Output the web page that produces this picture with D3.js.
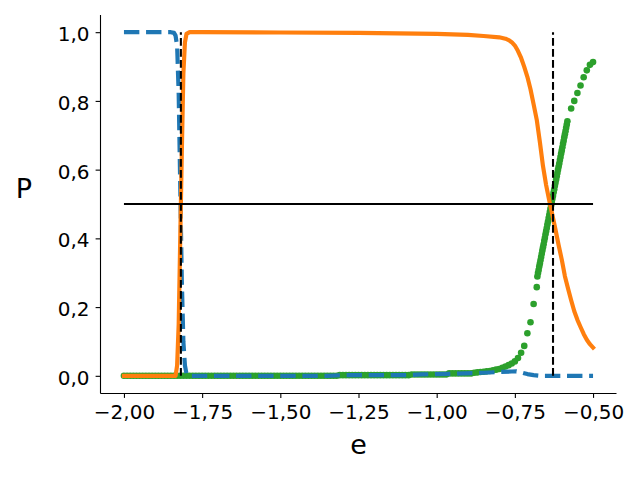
<!DOCTYPE html>
<html>
<head>
<meta charset="utf-8">
<script src="https://cdn.jsdelivr.net/npm/d3@7"></script>
<style>
  html, body { margin: 0; padding: 0; background: #fff; }
  svg { display: block; font-family: "DejaVu Sans", sans-serif; }
</style>
</head>
<body>
<svg id="chart" width="640" height="480"></svg>
<script>
// ---- data ----
const xTicks = [-2.0, -1.75, -1.5, -1.25, -1.0, -0.75, -0.5];
const xTickLabels = ["−2,00", "−1,75", "−1,50", "−1,25", "−1,00", "−0,75", "−0,50"];
const yTicks = [0, 0.2, 0.4, 0.6, 0.8, 1.0];
const yTickLabels = ["0,0", "0,2", "0,4", "0,6", "0,8", "1,0"];

// blue dashed series
const blueX = [-2.00, -1.85, -1.84, -1.835, -1.83, -1.825, -1.82, -1.815, -1.81, -1.805, -1.80, -1.79,
  -1.35, -1.30, -1.10, -1.05, -0.95, -0.85, -0.80, -0.76, -0.745, -0.73, -0.71, -0.69, -0.67, -0.50];
const blueY = [1.0, 1.0, 0.998, 0.99, 0.96, 0.82, 0.55, 0.28, 0.10, 0.03, 0.006, 0.0,
  0.0, 0.002, 0.002, 0.004, 0.006, 0.009, 0.011, 0.0125, 0.013, 0.010, 0.005, 0.002, 0.0, 0.0];

// orange solid series
const orangeX = [-2.00, -1.90, -1.835, -1.83, -1.825, -1.82, -1.815, -1.81, -1.805, -1.80, -1.79,
  -1.75, -1.50, -1.25, -1.00, -0.90, -0.85, -0.80, -0.78, -0.77, -0.76, -0.75, -0.74, -0.73, -0.72,
  -0.71, -0.70, -0.69, -0.68, -0.67, -0.66, -0.65, -0.64, -0.63, -0.62, -0.61, -0.60, -0.59, -0.58,
  -0.57, -0.56, -0.55, -0.54, -0.53, -0.52, -0.51, -0.50];
const orangeY = [0.0, 0.0, 0.0, 0.03, 0.15, 0.40, 0.65, 0.88, 0.97, 0.995, 1.0,
  1.0, 0.999, 0.998, 0.995, 0.992, 0.989, 0.985, 0.981, 0.977, 0.971, 0.961, 0.945, 0.925, 0.899,
  0.870, 0.834, 0.790, 0.745, 0.680, 0.610, 0.555, 0.510, 0.468, 0.425, 0.380, 0.338, 0.290, 0.254,
  0.220, 0.188, 0.163, 0.142, 0.122, 0.105, 0.092, 0.082];

// green dotted series (x, y)
const greenX = [
  -2.00, -1.99, -1.98, -1.97, -1.96, -1.95, -1.94, -1.93, -1.92, -1.91,
  -1.90, -1.89, -1.88, -1.87, -1.86, -1.85, -1.84, -1.83, -1.82, -1.81,
  -1.80, -1.79, -1.78, -1.77, -1.76, -1.75, -1.74, -1.73, -1.72, -1.71,
  -1.70, -1.69, -1.68, -1.67, -1.66, -1.65, -1.64, -1.63, -1.62, -1.61,
  -1.60, -1.59, -1.58, -1.57, -1.56, -1.55, -1.54, -1.53, -1.52, -1.51,
  -1.50, -1.49, -1.48, -1.47, -1.46, -1.45, -1.44, -1.43, -1.42, -1.41,
  -1.40, -1.39, -1.38, -1.37, -1.36, -1.35, -1.34, -1.33, -1.32, -1.31,
  -1.30, -1.29, -1.28, -1.27, -1.26, -1.25, -1.24, -1.23, -1.22, -1.21,
  -1.20, -1.19, -1.18, -1.17, -1.16, -1.15, -1.14, -1.13, -1.12, -1.11,
  -1.10, -1.09, -1.08, -1.07, -1.06, -1.05, -1.04, -1.03, -1.02, -1.01,
  -1.00, -0.99, -0.98, -0.97, -0.96, -0.95, -0.94, -0.93, -0.92, -0.91,
  -0.90, -0.89, -0.88, -0.87, -0.86, -0.85, -0.84, -0.83, -0.82, -0.81,
  -0.80, -0.79, -0.78, -0.77, -0.76, -0.75, -0.74, -0.73, -0.72, -0.71,
  -0.70, -0.69, -0.68,
  -0.678, -0.676, -0.674, -0.672, -0.670, -0.668, -0.666, -0.664, -0.662, -0.660,
  -0.658, -0.656, -0.654, -0.652, -0.650, -0.648, -0.646, -0.644, -0.642, -0.640,
  -0.638, -0.636, -0.634, -0.632, -0.630, -0.628, -0.626, -0.624, -0.622, -0.620,
  -0.618, -0.616, -0.614, -0.612, -0.610, -0.608, -0.606, -0.604, -0.602, -0.600,
  -0.598, -0.596, -0.594, -0.592, -0.590, -0.588, -0.586, -0.584, -0.582,
  -0.57, -0.56, -0.55, -0.54, -0.53, -0.52, -0.51, -0.50];
const greenY = [
  0, 0, 0, 0, 0, 0, 0, 0, 0, 0,
  0, 0, 0, 0, 0, 0, 0, 0, 0, 0,
  0, 0, 0, 0, 0, 0, 0, 0, 0, 0,
  0, 0, 0, 0, 0, 0, 0, 0, 0, 0,
  0, 0, 0, 0, 0, 0, 0, 0, 0, 0,
  0, 0, 0, 0, 0, 0, 0, 0, 0, 0,
  0, 0, 0, 0, 0, 0, 0, 0, 0, 0.002,
  0.002, 0.002, 0.002, 0.002, 0.002, 0.002, 0.002, 0.002, 0.002, 0.002,
  0.002, 0.002, 0.002, 0.002, 0.002, 0.002, 0.002, 0.002, 0.002, 0.002,
  0.002, 0.002, 0.004, 0.004, 0.004, 0.004, 0.004, 0.004, 0.004, 0.004,
  0.004, 0.004, 0.004, 0.004, 0.007, 0.007, 0.007, 0.007, 0.007, 0.007,
  0.007, 0.007, 0.009, 0.010, 0.011, 0.012, 0.013, 0.014, 0.016, 0.018,
  0.020, 0.023, 0.027, 0.031, 0.036, 0.042, 0.052, 0.067, 0.087, 0.124,
  0.156, 0.209, 0.258,
  0.289, 0.299, 0.308, 0.318, 0.327, 0.336, 0.346, 0.355, 0.365, 0.374,
  0.383, 0.393, 0.402, 0.412, 0.421, 0.430, 0.440, 0.449, 0.459, 0.468,
  0.477, 0.487, 0.496, 0.506, 0.515, 0.524, 0.534, 0.543, 0.553, 0.562,
  0.571, 0.581, 0.590, 0.600, 0.609, 0.618, 0.628, 0.637, 0.647, 0.656,
  0.665, 0.675, 0.684, 0.694, 0.703, 0.712, 0.722, 0.731, 0.741,
  0.778, 0.800, 0.823, 0.845, 0.869, 0.889, 0.905, 0.913];

// reference lines
const vLineX = [-1.818, -0.628];
const vLineY = [0.0, 1.0];
const hLineY = 0.5;
const hLineX = [-2.0, -0.5];

// ---- drawing ----
const svg = d3.select("#chart");
svg.append("rect").attr("width", 640).attr("height", 480).attr("fill", "#fff");

const x = d3.scaleLinear().domain([-2.075, -0.425]).range([100.5, 616.5]);
const y = d3.scaleLinear().domain([-0.05, 1.05]).range([393, 15]);

const plot = svg.append("g");

// green dots
const green = d3.zip(greenX, greenY);
plot.append("g").selectAll("circle").data(green).join("circle")
  .attr("cx", d => x(d[0])).attr("cy", d => y(d[1]))
  .attr("r", 3.3).attr("fill", "#2ca02c");

const line = d3.line().x(d => x(d[0])).y(d => y(d[1]));

// blue dashed
plot.append("path").datum(d3.zip(blueX, blueY))
  .attr("d", line).attr("fill", "none")
  .attr("stroke", "#1f77b4").attr("stroke-width", 4.17)
  .attr("stroke-dasharray", "15.4,6.7").attr("stroke-linejoin", "round");

// orange solid
plot.append("path").datum(d3.zip(orangeX, orangeY))
  .attr("d", line).attr("fill", "none")
  .attr("stroke", "#ff7f0e").attr("stroke-width", 4.17)
  .attr("stroke-linejoin", "round").attr("stroke-linecap", "square");

// horizontal line
plot.append("line")
  .attr("x1", x(hLineX[0])).attr("x2", x(hLineX[1]))
  .attr("y1", y(hLineY)).attr("y2", y(hLineY))
  .attr("stroke", "#000").attr("stroke-width", 2.08);

// vertical dashed lines
plot.selectAll(".vline").data(vLineX).join("line")
  .attr("class", "vline")
  .attr("x1", d => x(d)).attr("x2", d => x(d))
  .attr("y1", y(vLineY[0])).attr("y2", y(vLineY[1]))
  .attr("stroke", "#000").attr("stroke-width", 2.08)
  .attr("stroke-dasharray", "7.7,3.3");

// axes
const xAxis = d3.axisBottom(x).tickValues(xTicks)
  .tickFormat((d, i) => xTickLabels[i]).tickSize(4.9).tickPadding(6).tickSizeOuter(0);
const gx = svg.append("g").attr("transform", "translate(0,393)").call(xAxis);
gx.select(".domain").attr("d", "M100.5,0.5H616.5").attr("stroke-width", 1.1);
gx.selectAll(".tick line").attr("stroke-width", 1.1);
gx.selectAll(".tick text").attr("font-size", 20).attr("font-family", "DejaVu Sans")
  .attr("fill", "#000").attr("dy", null).attr("y", 26);

const yAxis = d3.axisLeft(y).tickValues(yTicks)
  .tickFormat((d, i) => yTickLabels[i]).tickSize(4.9).tickPadding(6).tickSizeOuter(0);
const gy = svg.append("g").attr("transform", "translate(100.5,0)").call(yAxis);
gy.select(".domain").attr("d", "M0,15V393.5").attr("stroke-width", 1.1);
gy.selectAll(".tick line").attr("stroke-width", 1.1);
gy.selectAll(".tick text").attr("font-size", 20).attr("font-family", "DejaVu Sans")
  .attr("fill", "#000").attr("dy", null).attr("x", -11).attr("y", 8.6);

// axis labels
svg.append("text").attr("x", 358.5).attr("y", 454)
  .attr("text-anchor", "middle").attr("font-size", 27).attr("fill", "#000").text("e");
svg.append("text").attr("x", 24).attr("y", 198)
  .attr("text-anchor", "middle").attr("font-size", 27).attr("fill", "#000").text("P");
</script>
</body>
</html>
